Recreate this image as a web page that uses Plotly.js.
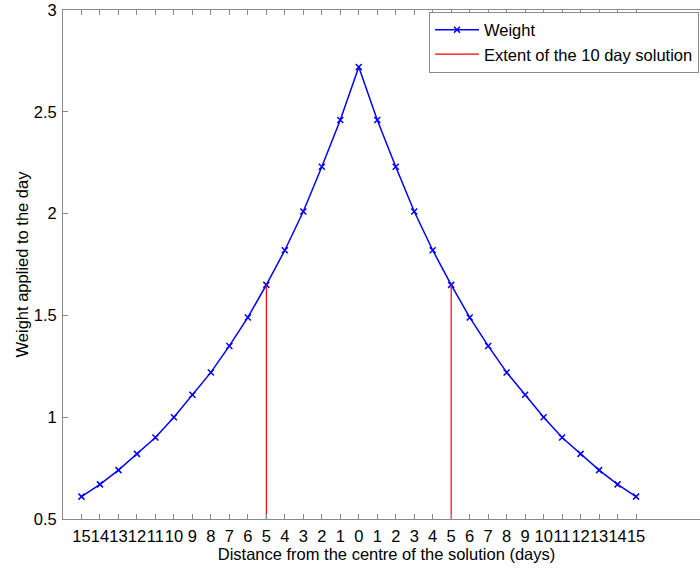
<!DOCTYPE html>
<html>
<head>
<meta charset="utf-8">
<script src="https://cdn.plot.ly/plotly-3.0.1.min.js"></script>
<style>html,body{margin:0;padding:0;overflow:hidden;background:#fff;width:700px;height:571px}</style>
</head>
<body>
<div id="chart" style="width:712px;height:571px"></div>
<script>
// Signed distance from the centre (days) and the weight applied
const distances = [-15,-14,-13,-12,-11,-10,-9,-8,-7,-6,-5,-4,-3,-2,-1,0,1,2,3,4,5,6,7,8,9,10,11,12,13,14,15];
const weights = [0.61,0.67,0.74,0.82,0.90,1.00,1.11,1.22,1.35,1.49,1.65,1.82,2.01,2.23,2.46,2.72,2.46,2.23,2.01,1.82,1.65,1.49,1.35,1.22,1.11,1.00,0.90,0.82,0.74,0.67,0.61];
const tickLabels = ["15","14","13","12","11","10","9","8","7","6","5","4","3","2","1","0","1","2","3","4","5","6","7","8","9","10","11","12","13","14","15"];
const extentDays = [-5, 5];
const extentBottom = 0.5;
const extentTop = 1.65;

const ex = [], ey = [];
extentDays.forEach((d, i) => {
  if (i > 0) { ex.push(null); ey.push(null); }
  ex.push(d, d); ey.push(extentBottom, extentTop);
});

const FONT = 'Liberation Sans, Arial, sans-serif';
const FS = 16.5;

const traces = [
  {
    x: distances, y: weights, type: 'scatter', mode: 'lines+markers', name: 'Weight',
    line: {color: '#0000ff', width: 1.5},
    marker: {symbol: 'x-thin', size: 6, line: {color: '#0000ff', width: 1.5}, color: '#0000ff'}
  },
  {
    x: ex, y: ey, type: 'scatter', mode: 'lines', name: 'Extent of the 10 day solution',
    line: {color: '#ff0000', width: 1.2}
  }
];

const axisCommon = {
  showline: true, linecolor: '#8a8a8a', linewidth: 1, mirror: 'ticks',
  ticks: 'inside', ticklen: 5, tickcolor: '#8a8a8a', tickwidth: 1,
  showgrid: false, zeroline: false,
  tickfont: {family: FONT, size: FS, color: '#000'}
};

const layout = {
  width: 712, height: 571,
  margin: {l: 63, r: 2, t: 10, b: 51.5},
  paper_bgcolor: '#fff', plot_bgcolor: '#fff',
  font: {family: FONT, size: FS, color: '#000'},
  showlegend: true,
  legend: {
    x: 0.983, xanchor: 'right', y: 0.997, yanchor: 'top',
    bordercolor: '#8a8a8a', borderwidth: 1, bgcolor: '#fff',
    font: {family: FONT, size: FS, color: '#000'},
    tracegroupgap: 0, itemwidth: 44
  },
  xaxis: Object.assign({}, axisCommon, {
    range: [-16, 19], tickmode: 'array', tickvals: distances, ticktext: tickLabels,
    tickangle: 0, ticklabelstandoff: 2,
    title: {text: 'Distance from the centre of the solution (days)', standoff: 0,
            font: {family: FONT, size: FS, color: '#000'}}
  }),
  yaxis: Object.assign({}, axisCommon, {
    range: [0.5, 3], tickmode: 'array', tickvals: [0.5,1,1.5,2,2.5,3],
    ticktext: ['0.5','1','1.5','2','2.5','3'],
    ticklabelstandoff: 2,
    title: {text: 'Weight applied to the day', standoff: 0,
            font: {family: FONT, size: FS, color: '#000'}}
  })
};

Plotly.newPlot('chart', traces, layout, {displayModeBar: false, staticPlot: true});
</script>
</body>
</html>
